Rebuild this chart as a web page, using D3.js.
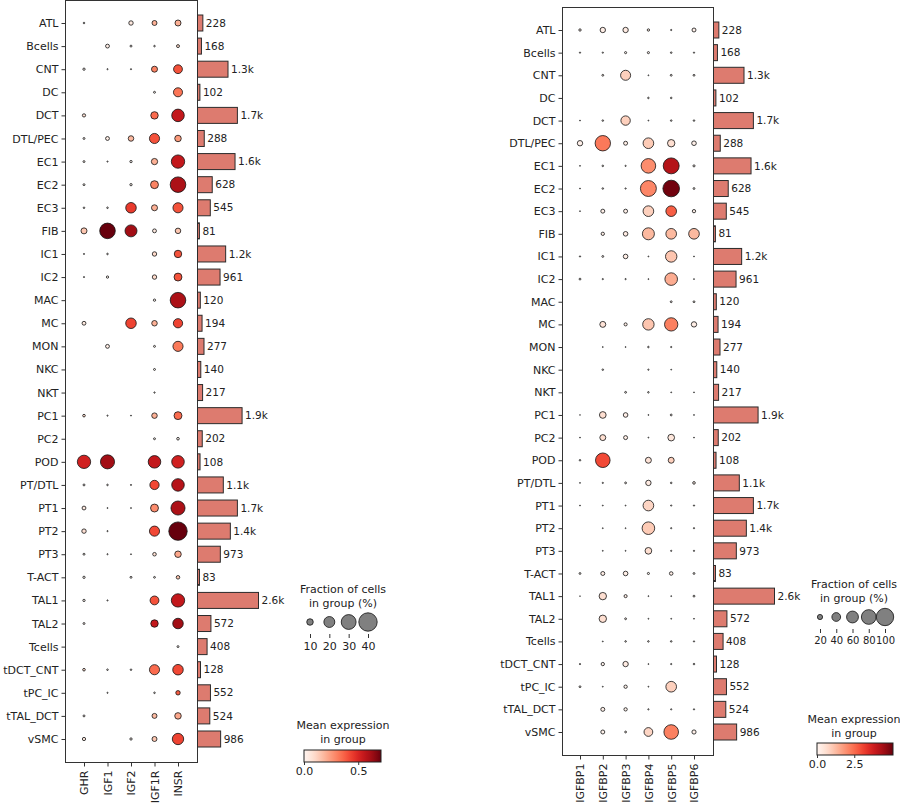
<!DOCTYPE html>
<html>
<head>
<meta charset="utf-8">
<script src="https://cdn.jsdelivr.net/npm/d3@7"></script>
<style>
  body { margin: 0; background: #fff; }
  svg text { font-family: "DejaVu Sans", sans-serif; fill: #222; }
</style>
</head>
<body>
<div id="chart"></div>
<script>
// cell groups (rows) and cell counts per group
const cellTypes = ["ATL", "Bcells", "CNT", "DC", "DCT", "DTL/PEC", "EC1", "EC2", "EC3", "FIB",
  "IC1", "IC2", "MAC", "MC", "MON", "NKC", "NKT", "PC1", "PC2", "POD", "PT/DTL", "PT1", "PT2",
  "PT3", "T-ACT", "TAL1", "TAL2", "Tcells", "tDCT_CNT", "tPC_IC", "tTAL_DCT", "vSMC"]
const cellCounts = [228, 168, 1300, 102, 1700, 288, 1600, 628, 545, 81, 1200, 961, 120, 194, 277,
  140, 217, 1900, 202, 108, 1100, 1700, 1400, 973, 83, 2600, 572, 408, 128, 552, 524, 986]

const genesA = ["GHR", "IGF1", "IGF2", "IGF1R", "INSR"]
const genesB = ["IGFBP1", "IGFBP2", "IGFBP3", "IGFBP4", "IGFBP5", "IGFBP6"]

// fraction of cells expressing (%) - one row per cell group
const fracA = [
  [1.5, 0, 6, 7, 9], [0, 5, 2, 1.5, 3.5], [2.5, 1, 1, 9, 15], [0, 0, 0, 2, 15.5],
  [4, 0, 0, 12, 24], [2, 5, 8, 18, 10], [2, 1, 2.5, 9.5, 26], [2, 0, 2.5, 13, 32],
  [1.5, 1.5, 19, 9, 18], [9, 32, 22.6, 5, 8], [1, 1.5, 0, 6, 12], [1, 2.5, 0, 6, 13],
  [0, 0, 0, 2.5, 32], [5, 0, 19, 8, 16], [0, 5, 0, 2, 18], [0, 0, 0, 2, 0],
  [0, 0, 0, 1.2, 0], [3, 1, 0.8, 8, 13], [0, 0, 0, 2, 3], [26, 28, 0, 24, 24],
  [2, 1.5, 1, 16, 24], [5, 0.8, 0.8, 13, 28], [6, 1, 0, 18, 40], [2, 1, 0.8, 4.5, 10],
  [2.5, 0, 2, 1.8, 4.5], [2.5, 1, 0, 15, 26], [2, 0, 0, 12, 19], [0, 0, 0, 0, 2],
  [3, 1.5, 1.5, 18, 19], [0, 1, 0, 1.5, 6], [2, 0, 0, 7, 10], [4, 0, 2.5, 7, 21]
]
// mean expression in group
const exprA = [
  [0, 0, 0.05, 0.2, 0.2], [0, 0.03, 0, 0, 0.1], [0, 0, 0, 0.3, 0.4], [0, 0, 0, 0, 0.33],
  [0.08, 0, 0, 0.35, 0.55], [0, 0.03, 0.18, 0.4, 0.25], [0, 0, 0, 0.2, 0.55], [0, 0, 0, 0.3, 0.6],
  [0, 0, 0.45, 0.2, 0.4], [0.15, 0.71, 0.62, 0.05, 0.15], [0, 0, 0, 0.1, 0.4], [0, 0, 0, 0.1, 0.4],
  [0, 0, 0, 0, 0.6], [0.05, 0, 0.43, 0.2, 0.43], [0, 0.03, 0, 0, 0.32], [0, 0, 0, 0, 0],
  [0, 0, 0, 0, 0], [0.1, 0, 0, 0.2, 0.35], [0, 0, 0, 0, 0], [0.52, 0.62, 0, 0.55, 0.52],
  [0, 0, 0, 0.42, 0.58], [0.05, 0, 0, 0.28, 0.6], [0.08, 0, 0, 0.42, 0.71], [0, 0, 0, 0.08, 0.22],
  [0, 0, 0, 0, 0.15], [0, 0, 0, 0.4, 0.55], [0, 0, 0, 0.55, 0.62], [0, 0, 0, 0, 0],
  [0.1, 0, 0, 0.35, 0.42], [0, 0, 0, 0, 0.38], [0, 0, 0, 0.18, 0.22], [0.05, 0, 0, 0.15, 0.43]
]

const fracB = [
  [7, 21, 21, 7, 3, 14], [3, 3, 6, 6, 4, 3], [0, 5, 48, 2, 5, 5], [0, 0, 0, 4, 4, 0],
  [2, 4, 44, 2, 4, 4], [21, 85, 14, 52, 32, 17], [2, 4, 3, 79, 89, 6], [2, 4, 3, 89, 94, 5],
  [2, 14, 14, 52, 52, 11], [0, 11, 17, 61, 52, 52], [3, 5, 17, 2, 57, 2], [5, 3, 3, 2, 65, 2],
  [0, 0, 0, 0, 5, 5], [0, 24, 10, 57, 70, 21], [0, 2, 2, 4, 3, 0], [0, 4, 0, 3, 2, 0],
  [0, 0, 5, 4, 2, 2], [1.5, 28, 17, 2, 5, 2], [2, 24, 14, 2, 28, 2], [4, 79, 0, 24, 24, 0],
  [2, 3, 5, 21, 4, 8], [2, 2, 2, 52, 3, 3], [0, 2, 2, 65, 3, 3], [0, 2, 2, 28, 3, 3],
  [5, 14, 17, 6, 12, 5], [1.5, 32, 10, 2, 2, 5], [0, 32, 5, 2, 2, 2], [0, 2, 4, 4, 4, 3],
  [3, 11, 21, 2, 3, 4], [5, 2, 11, 2, 52, 0], [0, 14, 11, 3, 3, 3], [0, 14, 5, 40, 79, 15]
]
const exprB = [
  [0.2, 0.2, 0.3, 0.2, 0, 0.15], [0, 0, 0, 0, 0, 0], [0, 0, 0.9, 0, 0, 0], [0, 0, 0, 0, 0, 0],
  [0, 0, 0.9, 0, 0, 0], [0.15, 2.3, 0.2, 1.0, 0.6, 0.15], [0, 0, 0, 2.0, 4.2, 0], [0, 0, 0, 2.1, 5.0, 0],
  [0, 0.15, 0.15, 0.9, 2.7, 0.15], [0, 0.2, 0.3, 1.3, 1.3, 1.3], [0, 0, 0.2, 0, 1.1, 0], [0, 0, 0, 0, 1.5, 0],
  [0, 0, 0, 0, 0, 0], [0, 0.5, 0.2, 1.1, 2.2, 0.2], [0, 0, 0, 0, 0, 0], [0, 0, 0, 0, 0, 0],
  [0, 0, 0, 0, 0, 0], [0, 0.6, 0.2, 0, 0, 0], [0, 0.6, 0.2, 0, 0.4, 0], [0, 3.0, 0, 0.5, 0.9, 0],
  [0, 0, 0, 0.3, 0, 0.2], [0, 0, 0, 0.8, 0, 0], [0, 0, 0, 1.0, 0, 0], [0, 0, 0, 0.6, 0, 0],
  [0, 0.2, 0.2, 0, 0.2, 0], [0, 0.6, 0.2, 0, 0, 0], [0, 0.6, 0, 0, 0, 0], [0, 0, 0, 0, 0, 0],
  [0, 0.1, 0.3, 0, 0, 0], [0, 0, 0.1, 0, 0.9, 0], [0, 0.15, 0.1, 0, 0, 0], [0, 0.1, 0, 0.8, 2.2, 0.15]
]

// legend ticks
const sizeTicksA = [10, 20, 30, 40]
const sizeTicksB = [20, 40, 60, 80, 100]
const colorTicksA = [0.0, 0.5]
const colorTicksB = [0.0, 2.5]

const W = 900, H = 804
const FS = 11
const svg = d3.select("#chart").append("svg")
  .attr("width", W).attr("height", H)

const fmtCount = v => v >= 1000 ? (v / 1000).toFixed(1) + "k" : String(v)
const barScale = d3.scaleLinear().domain([0, 2600]).range([0, 61])

let gradId = 0

function styleAxis(sel, fs = FS) {
  sel.select(".domain").remove()
  sel.selectAll("line").attr("stroke", "#333")
  sel.selectAll("text").attr("font-size", fs).attr("font-family", "DejaVu Sans").attr("fill", "#222")
}

function drawPanel(p) {
  const g = svg.append("g")
  const y = d3.scalePoint().domain(cellTypes).range([p.rowTop, p.rowBot])
  const x = d3.scalePoint().domain(p.genes).range([p.colL, p.colR])
  const r = d3.scalePow().exponent(0.75).domain([0, p.dotMax]).range([0, p.rMax])
  const color = d3.scaleSequential(d3.interpolateReds).domain([0, p.exprMax])

  // frame
  g.append("rect")
    .attr("x", p.x0 + 0.5).attr("y", p.y0 + 0.5)
    .attr("width", p.x1 - p.x0).attr("height", p.y1 - p.y0)
    .attr("fill", "none").attr("stroke", "#333").attr("stroke-width", 1)

  // row axis
  g.append("g")
    .attr("transform", `translate(${p.x0 + 0.5},0)`)
    .call(d3.axisLeft(y).tickSize(4).tickPadding(3))
    .call(styleAxis)

  // column axis
  const xAxis = g.append("g")
    .attr("transform", `translate(0,${p.y1 + 0.5})`)
    .call(d3.axisBottom(x).tickSize(4).tickPadding(3))
    .call(styleAxis)
  xAxis.selectAll("text")
    .attr("transform", "rotate(-90)")
    .attr("text-anchor", "end")
    .attr("x", -8).attr("y", 0).attr("dy", "0.35em")

  // dots
  const cells = []
  cellTypes.forEach((c, i) => {
    p.genes.forEach((gn, j) => {
      if (p.frac[i][j] > 0) cells.push({ cell: c, gene: gn, frac: p.frac[i][j], expr: p.expr[i][j] })
    })
  })
  g.selectAll("circle.dot")
    .data(cells)
    .join("circle")
    .attr("class", "dot")
    .attr("cx", d => x(d.gene))
    .attr("cy", d => y(d.cell))
    .attr("r", d => r(d.frac))
    .attr("fill", d => color(d.expr))
    .attr("stroke", "#111")
    .attr("stroke-width", 0.8)

  // totals bars
  const bars = g.append("g").attr("transform", `translate(${p.x1 + 0.5},0)`)
  bars.selectAll("rect")
    .data(cellTypes)
    .join("rect")
    .attr("x", 0)
    .attr("y", d => y(d) - 8)
    .attr("width", (d, i) => barScale(cellCounts[i]))
    .attr("height", 16)
    .attr("fill", "#dd7b6f")
    .attr("stroke", "#2b2b2b")
    .attr("stroke-width", 1)
  bars.selectAll("text")
    .data(cellTypes)
    .join("text")
    .attr("x", (d, i) => barScale(cellCounts[i]) + 3)
    .attr("y", d => y(d))
    .attr("dy", "0.35em")
    .attr("font-size", 10.5)
    .text((d, i) => fmtCount(cellCounts[i]))

  // size legend
  const sl = svg.append("g")
  sl.append("text").attr("x", p.legCx).attr("y", p.sizeTitleY)
    .attr("text-anchor", "middle").attr("font-size", FS).text("Fraction of cells")
  sl.append("text").attr("x", p.legCx).attr("y", p.sizeTitleY + 13.5)
    .attr("text-anchor", "middle").attr("font-size", FS).text("in group (%)")
  const sx = d3.scalePoint().domain(p.sizeTicks).range(p.sizeRange)
  sl.selectAll("circle")
    .data(p.sizeTicks)
    .join("circle")
    .attr("cx", d => sx(d)).attr("cy", p.sizeDotY)
    .attr("r", d => r(d))
    .attr("fill", "#808080").attr("stroke", "#111").attr("stroke-width", 0.8)
  sl.append("g")
    .attr("transform", `translate(0,${p.sizeDotY + 12})`)
    .call(d3.axisBottom(sx).tickSize(4).tickPadding(4))
    .call(styleAxis, p.sizeFs)

  // color legend
  const cl = svg.append("g")
  cl.append("text").attr("x", p.legCx).attr("y", p.colorTitleY)
    .attr("text-anchor", "middle").attr("font-size", FS).text("Mean expression")
  cl.append("text").attr("x", p.legCx).attr("y", p.colorTitleY + 13.5)
    .attr("text-anchor", "middle").attr("font-size", FS).text("in group")
  const id = "grad" + (gradId++)
  const grad = svg.append("defs").append("linearGradient").attr("id", id)
  d3.range(0, 1.0001, 0.05).forEach(t => {
    grad.append("stop").attr("offset", t).attr("stop-color", d3.interpolateReds(t))
  })
  const cx = d3.scaleLinear().domain([0, p.exprMax]).range(p.cbarRange)
  cl.append("rect")
    .attr("x", p.cbarRange[0]).attr("y", p.cbarY)
    .attr("width", p.cbarRange[1] - p.cbarRange[0]).attr("height", 12)
    .attr("fill", `url(#${id})`).attr("stroke", "#222").attr("stroke-width", 1)
  cl.append("g")
    .attr("transform", `translate(0,${p.cbarY + 12})`)
    .call(d3.axisBottom(cx).tickValues(p.colorTicks).tickFormat(d3.format(".1f")).tickSize(3).tickPadding(2))
    .call(styleAxis)
}

drawPanel({
  genes: genesA, frac: fracA, expr: exprA,
  x0: 65, x1: 197, y0: 0, y1: 762,
  rowTop: 23, rowBot: 739, colL: 84, colR: 178,
  dotMax: 40, rMax: 9.2, exprMax: 0.71,
  legCx: 343, sizeTitleY: 593, sizeDotY: 622,
  sizeTicks: sizeTicksA, sizeRange: [310, 368], sizeFs: FS,
  colorTitleY: 729, cbarY: 750, cbarRange: [304, 381], colorTicks: colorTicksA
})

drawPanel({
  genes: genesB, frac: fracB, expr: exprB,
  x0: 562, x1: 713, y0: 7, y1: 755,
  rowTop: 30, rowBot: 732, colL: 580, colR: 694,
  dotMax: 100, rMax: 8.7, exprMax: 5.1,
  legCx: 854, sizeTitleY: 588, sizeDotY: 617,
  sizeTicks: sizeTicksB, sizeRange: [820, 885], sizeFs: 10,
  colorTitleY: 723, cbarY: 743, cbarRange: [817, 893], colorTicks: colorTicksB
})
</script>
</body>
</html>
